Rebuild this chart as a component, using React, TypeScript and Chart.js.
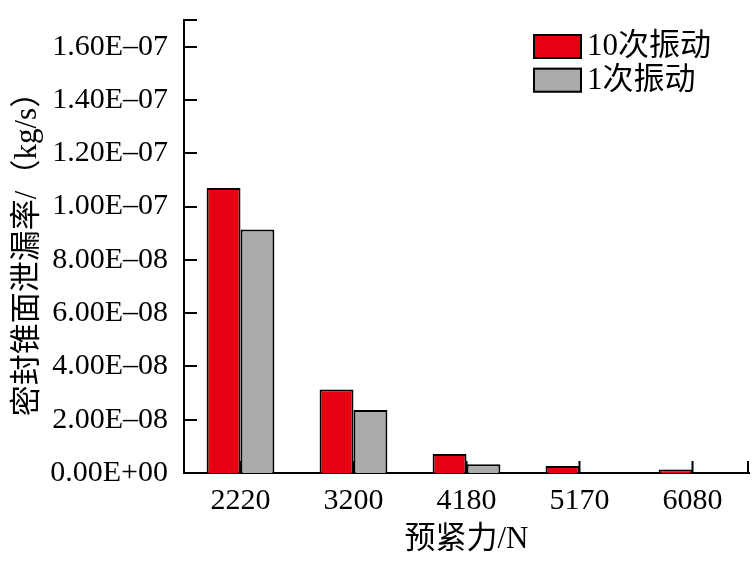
import React, { useEffect, useRef } from 'react';
import { Chart, registerables } from 'chart.js';

Chart.register(...registerables);

const categories = ['2220', '3200', '4180', '5170', '6080'];
const seriesNames = ['10次振动', '1次振动'];
const series10 = [1.07e-7, 3.13e-8, 7.1e-9, 2.6e-9, 1.3e-9];
const series1 = [9.14e-8, 2.36e-8, 3.3e-9, 0, 0];
const yTickValues = [0, 2e-8, 4e-8, 6e-8, 8e-8, 1e-7, 1.2e-7, 1.4e-7, 1.6e-7, 1.7e-7];
const yTickLabels = ['0.00E+00', '2.00E–08', '4.00E–08', '6.00E–08', '8.00E–08', '1.00E–07', '1.20E–07', '1.40E–07', '1.60E–07', ''];
const xTitle = '预紧力/N';
const yTitle = '密封锥面泄漏率/（kg/s）';

const FONT = "'Liberation Serif', 'Noto Sans CJK SC', serif";

const tickPlugin = {
  id: 'inwardTicks',
  beforeDatasetsDraw(chart: any) {
    const { ctx, chartArea } = chart;
    const xs = chart.scales.x;
    ctx.save();
    ctx.strokeStyle = '#000';
    ctx.lineWidth = 2;
    ctx.beginPath();
    const xPos: number[] = [];
    for (let i = 0; i < categories.length; i++) xPos.push(xs.getPixelForTick(i));
    xPos.push(chartArea.right - 1);
    xPos.forEach((px) => {
      ctx.moveTo(px, chartArea.bottom);
      ctx.lineTo(px, chartArea.bottom - 12);
    });
    ctx.stroke();
    ctx.restore();
  },
  afterDraw(chart: any) {
    const { ctx, chartArea } = chart;
    const ys = chart.scales.y;
    ctx.save();
    ctx.strokeStyle = '#000';
    ctx.lineWidth = 2;
    ctx.beginPath();
    ys.ticks.forEach((t: any) => {
      const py = Math.round(ys.getPixelForValue(t.value));
      ctx.moveTo(chartArea.left, py);
      ctx.lineTo(chartArea.left + 13, py);
    });
    ctx.stroke();
    ctx.restore();
  },
};

const legendPlugin = {
  id: 'boxLegend',
  afterDraw(chart: any) {
    const { ctx, chartArea } = chart;
    const x0 = chartArea.right - 216;
    const y0 = chartArea.top + 14;
    ctx.save();
    chart.data.datasets.forEach((ds: any, i: number) => {
      const y = y0 + i * 33.7;
      ctx.fillStyle = ds.backgroundColor;
      ctx.fillRect(x0, y, 49, 25);
      ctx.strokeStyle = '#000';
      ctx.lineWidth = 2;
      ctx.strokeRect(x0 + 1, y + 1, 47, 23);
      ctx.fillStyle = '#000';
      ctx.font = `31px ${FONT}`;
      ctx.textBaseline = 'middle';
      ctx.textAlign = 'left';
      ctx.fillText(ds.label, x0 + 54, y + 13);
    });
    ctx.restore();
  },
};

export default function App() {
  const ref = useRef<HTMLCanvasElement>(null);
  useEffect(() => {
    document.body.style.margin = '0';
    const chart = new Chart(ref.current as HTMLCanvasElement, {
      type: 'bar',
      data: {
        labels: categories,
        datasets: [
          {
            label: seriesNames[0],
            data: series10,
            backgroundColor: '#E60012',
            borderColor: '#000',
            borderWidth: 2,
            categoryPercentage: 0.6,
            barPercentage: 1.0,
          },
          {
            label: seriesNames[1],
            data: series1,
            backgroundColor: '#AAABAB',
            borderColor: '#000',
            borderWidth: 2,
            categoryPercentage: 0.6,
            barPercentage: 1.0,
          },
        ],
      },
      options: {
        responsive: false,
        animation: false,
        devicePixelRatio: 1,
        layout: { padding: { left: 0, right: 4, top: 20, bottom: 0 } },
        plugins: {
          legend: { display: false },
          tooltip: { enabled: false },
        },
        scales: {
          x: {
            grid: { display: false, drawTicks: false },
            border: { display: true, color: '#000', width: 2 },
            ticks: {
              color: '#000',
              font: { family: FONT, size: 30 },
              padding: 10,
              maxRotation: 0,
            },
            title: {
              display: true,
              text: xTitle,
              color: '#000',
              font: { family: FONT, size: 31 },
              padding: { top: 0, bottom: 11 },
            },
            afterFit: (scale: any) => {
              scale.height = 96;
            },
          },
          y: {
            min: 0,
            max: 1.7e-7,
            grid: { display: false, drawTicks: false },
            border: { display: true, color: '#000', width: 2 },
            afterBuildTicks: (scale: any) => {
              scale.ticks = yTickValues.map((v) => ({ value: v }));
            },
            ticks: {
              color: '#000',
              font: { family: FONT, size: 30 },
              padding: 16,
              callback: (_v: any, i: number) => yTickLabels[i],
            },
            title: {
              display: true,
              text: yTitle,
              color: '#000',
              font: { family: FONT, size: 31 },
              padding: { top: 9, bottom: 0 },
            },
            afterFit: (scale: any) => {
              scale.width = 184;
              scale.paddingTop = 0;
            },
          },
        },
      },
      plugins: [tickPlugin, legendPlugin],
    });
    return () => chart.destroy();
  }, []);
  return (
    <canvas
      ref={ref}
      width={753}
      height={569}
      style={{ position: 'absolute', left: 0, top: 0, width: 753, height: 569 }}
    />
  );
}
